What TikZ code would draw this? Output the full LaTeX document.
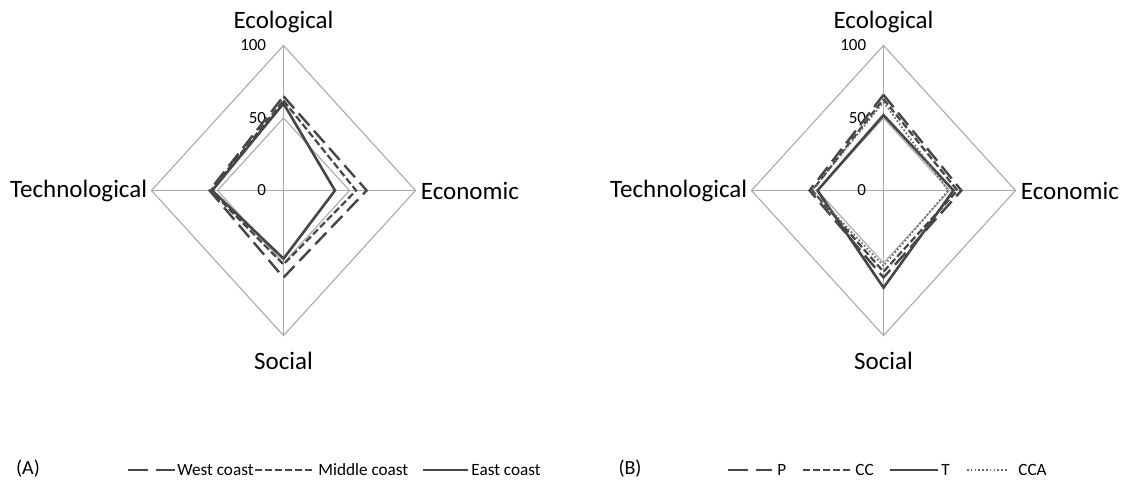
\documentclass[tikz,border=0pt]{standalone}
\usepackage{fontspec}
\setmainfont{Carlito}
\usepackage{tikz}
\usetikzlibrary{positioning}
\definecolor{rdgrid}{RGB}{170,170,170}
\definecolor{rdline}{RGB}{70,70,70}
\tikzstyle{gridline} = [draw=rdgrid, line width=0.55pt]
\tikzstyle{catlabel} = [font=\fontsize{12.5}{14}\selectfont, inner sep=0pt]
\tikzstyle{scalelabel} = [font=\fontsize{8.5}{10}\selectfont, inner sep=0pt, anchor=east]
\tikzstyle{legtext} = [font=\fontsize{8.6}{10}\selectfont, inner sep=0pt, anchor=base west]
\tikzstyle{longdash} = [draw=rdline, line width=1.2pt, dash pattern=on 8pt off 3.5pt]
\tikzstyle{shortdash} = [draw=rdline, line width=1.1pt, dash pattern=on 3.5pt off 1.5pt]
\tikzstyle{solidline} = [draw=rdline, line width=1.3pt]
\tikzstyle{dotline} = [draw=rdline!80, line width=0.9pt, dash pattern=on 0.8pt off 1.1pt]
% one series: ecological, economic, social, technological
\newcommand{\radarseries}[5]{\draw[#1] (0,#2) -- (#3,0) -- (0,-#4) -- (-#5,0) -- cycle;}
% grid, axes and labels of one chart
\newcommand{\radarframe}[1]{
    \draw[gridline] (0,100) -- (100,0) -- (0,-100) -- (-100,0) -- cycle;
    \draw[gridline] (0,50) -- (50,0) -- (0,-50) -- (-50,0) -- cycle;
    \coordinate (#1c) at (0,0);
    \coordinate (#1eco) at (0,100);
    \coordinate (#1ec) at (100,0);
    \coordinate (#1so) at (0,-100);
    \coordinate (#1te) at (-100,0);
    \draw[gridline] (#1c) -- (#1eco);
    \draw[gridline] (#1c) -- (#1ec);
    \draw[gridline] (#1c) -- (#1so);
    \draw[gridline] (#1c) -- (#1te);
    \node[catlabel, above=6pt of #1eco] (#1ecolbl) {Ecological};
    \node[catlabel, anchor=west, right=2.5pt of #1ec] (#1eclbl) {Economic};
    \node[catlabel, below=8pt of #1so] (#1solbl) {Social};
    \node[catlabel, anchor=east, left=2pt of #1te] (#1telbl) {Technological};
    \node[scalelabel, left=8.5pt of #1eco] (#1hundred) {100};
    \node[scalelabel] (#1fifty) at ([xshift=-8.5pt]0,50) {50};
    \node[scalelabel] (#1zero) at ([xshift=-8.5pt]#1c) {0};
}

\begin{document}
\begin{tikzpicture}[x=0.5pt, y=-0.5pt]
    \useasboundingbox (0,0) rectangle (1124,482);

    % Chart A
    \begin{scope}[shift={(141.75pt,-95.25pt)}, x=0.66pt, y=0.725pt]
        \radarframe{A}
        \radarseries{longdash}{65}{63}{60}{56}
        \radarseries{shortdash}{62}{55}{51}{55}
        \radarseries{solidline}{60}{39}{47}{54}
    \end{scope}

    % Chart B
    \begin{scope}[shift={(441.75pt,-95.25pt)}, x=0.66pt, y=0.725pt]
        \radarframe{B}
        \radarseries{longdash}{66}{59}{60}{56}
        \radarseries{shortdash}{63}{56}{56}{54}
        \radarseries{solidline}{52}{53}{67}{50}
        \radarseries{dotline}{61}{49}{52}{54}
    \end{scope}

    % Legend A
    \node[font=\fontsize{10}{12}\selectfont] (tagA) at (28,469) {(A)};
    \coordinate (wA) at (128,470); \coordinate (wB) at (175,470);
    \draw[longdash, dash pattern=on 10pt off 4pt] (wA) -- (wB);
    \node[legtext] (west) at (177,475) {West coast};
    \coordinate (mA) at (255,470); \coordinate (mB) at (315,470);
    \draw[shortdash] (mA) -- (mB);
    \node[legtext] (middle) at (318,475) {Middle coast};
    \coordinate (eA) at (423,470); \coordinate (eB) at (468,470);
    \draw[solidline] (eA) -- (eB);
    \node[legtext] (east) at (471,475) {East coast};

    % Legend B
    \node[font=\fontsize{10}{12}\selectfont] (tagB) at (630,469) {(B)};
    \coordinate (pA) at (728,470); \coordinate (pB) at (772,470);
    \draw[longdash, dash pattern=on 10pt off 4pt] (pA) -- (pB);
    \node[legtext] (leP) at (777,475) {P};
    \coordinate (cA) at (803,470); \coordinate (cB) at (850,470);
    \draw[shortdash] (cA) -- (cB);
    \node[legtext] (leCC) at (855,475) {CC};
    \coordinate (tA) at (890,470); \coordinate (tB) at (938,470);
    \draw[solidline] (tA) -- (tB);
    \node[legtext] (leT) at (941,475) {T};
    \coordinate (aA) at (967,470); \coordinate (aB) at (1008,470);
    \draw[dotline] (aA) -- (aB);
    \node[legtext] (leCCA) at (1018,475) {CCA};
\end{tikzpicture}
\end{document}
